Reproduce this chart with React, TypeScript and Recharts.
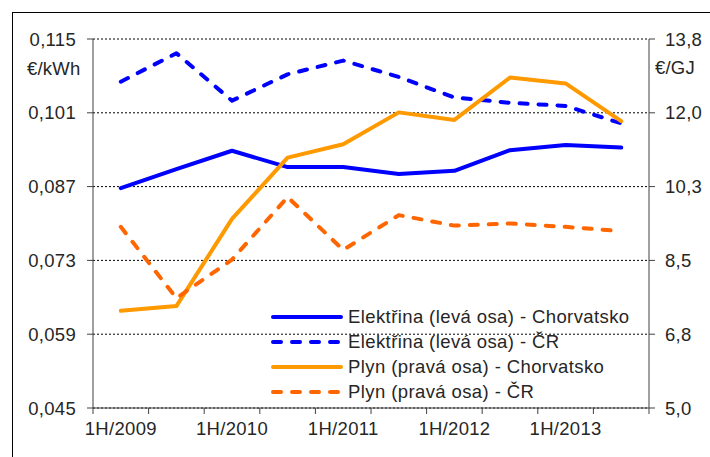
import { LineChart, Line, XAxis, YAxis, CartesianGrid, Legend } from 'recharts';

const periods = ['1H/2009', '2H/2009', '1H/2010', '2H/2010', '1H/2011', '2H/2011', '1H/2012', '2H/2012', '1H/2013', '2H/2013'];

// €/kWh (left axis)
const elektrinaHr = [0.0867, 0.0903, 0.0938, 0.0907, 0.0907, 0.0894, 0.09, 0.0939, 0.0949, 0.0944];
const elektrinaCr = [0.1069, 0.1123, 0.1033, 0.1083, 0.1109, 0.1078, 0.1039, 0.1029, 0.1023, 0.099];
// €/GJ (right axis)
const plynHr = [7.32, 7.43, 9.51, 10.97, 11.29, 12.05, 11.87, 12.88, 12.74, 11.84];
const plynCr = [9.32, 7.62, 8.54, 10.03, 8.77, 9.6, 9.35, 9.4, 9.32, 9.22];

const leftTicks = [0.045, 0.059, 0.073, 0.087, 0.101, 0.115];
const rightTicks = [5.0, 6.76, 8.52, 10.28, 12.04, 13.8];

const series = [
  { key: 'eHr', name: 'Elektřina (levá osa) - Chorvatsko', color: '#0000ff', dashed: false, axis: 'left' },
  { key: 'eCr', name: 'Elektřina (levá osa) - ČR', color: '#0000ff', dashed: true, axis: 'left' },
  { key: 'pHr', name: 'Plyn (pravá osa) - Chorvatsko', color: '#ff9900', dashed: false, axis: 'right' },
  { key: 'pCr', name: 'Plyn (pravá osa) - ČR', color: '#ff6600', dashed: true, axis: 'right' },
];

const data = periods.map((p, i) => ({
  x: i + 0.5,
  period: p,
  eHr: elektrinaHr[i],
  eCr: elektrinaCr[i],
  pHr: plynHr[i],
  pCr: plynCr[i],
}));

// boundaries between half-years, where the tick marks sit
const boundaries = [0, ...periods.map((_, i) => i + 1)];

const font = 'Arial, "Liberation Sans", sans-serif';
const textColor = '#262626';
const tickStyle = { fill: textColor, fontSize: 18.5, fontFamily: font, letterSpacing: 0.3 };
const DASH = '8 11';

const comma = (v: number, d: number) => v.toFixed(d).replace('.', ',');

function LegendBox() {
  return (
    <div style={{ fontFamily: font, fontSize: 18.5, color: textColor, letterSpacing: 0.4, textAlign: 'left' }}>
      {series.map((s) => (
        <div key={s.key} style={{ display: 'flex', alignItems: 'center', height: 25 }}>
          <svg width={77} height={10}>
            <line
              x1={2}
              y1={5}
              x2={70}
              y2={5}
              stroke={s.color}
              strokeWidth={4}
              strokeLinecap="round"
              strokeDasharray={s.dashed ? DASH : undefined}
            />
          </svg>
          <span style={{ lineHeight: '25px', whiteSpace: 'nowrap' }}>{s.name}</span>
        </div>
      ))}
    </div>
  );
}

export default function App() {
  return (
    <div style={{ position: 'absolute', left: 0, top: 0, width: 710, height: 457, background: '#fff', overflow: 'hidden' }}>
      <div
        style={{
          position: 'absolute',
          left: 12,
          top: 12,
          width: 760,
          height: 500,
          borderLeft: '1.5px solid #000',
          borderTop: '1.5px solid #000',
        }}
      />
      <div style={{ position: 'absolute', left: 27, top: 58, fontFamily: font, fontSize: 18.5, color: textColor, letterSpacing: 0.2 }}>€/kWh</div>
      <div style={{ position: 'absolute', left: 655, top: 57, fontFamily: font, fontSize: 18.5, color: textColor, letterSpacing: 0.2 }}>€/GJ</div>
      <LineChart width={710} height={457} data={data} margin={{ top: 39, right: 0, bottom: 0, left: 13 }}>
        <CartesianGrid yAxisId="left" vertical={false} stroke="#000" strokeDasharray="2 2" strokeWidth={1} />
        <XAxis
          dataKey="x"
          type="number"
          domain={[0, 10]}
          ticks={boundaries}
          tickFormatter={() => ''}
          height={1}
          tickSize={6}
          tickLine={{ stroke: '#404040' }}
          stroke="#404040"
          interval={0}
        />
        <XAxis
          xAxisId="labels"
          type="number"
          dataKey="x"
          domain={[0, 10]}
          ticks={data.filter((_, i) => i % 2 === 0).map((d) => d.x)}
          tickFormatter={(v: number) => periods[Math.floor(v)]}
          axisLine={false}
          tickLine={false}
          tickSize={0}
          tickMargin={13}
          height={48}
          tick={tickStyle}
          interval={0}
        />
        <YAxis
          yAxisId="left"
          domain={[0.045, 0.115]}
          ticks={leftTicks}
          tickFormatter={(v: number) => comma(v, 3)}
          width={80}
          tickSize={6}
          tickMargin={11}
          stroke="#404040"
          tick={tickStyle}
          interval={0}
        />
        <YAxis
          yAxisId="right"
          orientation="right"
          domain={[5, 13.8]}
          ticks={rightTicks}
          tickFormatter={(v: number) => comma(v, 1)}
          width={61}
          tickSize={6}
          tickMargin={10}
          stroke="#404040"
          tick={{ ...tickStyle, textAnchor: 'start' }}
          interval={0}
        />
        <Legend
          content={<LegendBox />}
          layout="horizontal"
          verticalAlign="middle"
          align="center"
          wrapperStyle={{ left: 271, top: 304, width: 400 }}
        />
        {series.map((s) => (
          <Line
            key={s.key}
            yAxisId={s.axis}
            dataKey={s.key}
            name={s.name}
            type="linear"
            stroke={s.color}
            strokeWidth={4}
            strokeLinecap="round"
            strokeLinejoin="round"
            strokeDasharray={s.dashed ? DASH : undefined}
            dot={false}
            activeDot={false}
            isAnimationActive={false}
          />
        ))}
      </LineChart>
    </div>
  );
}
